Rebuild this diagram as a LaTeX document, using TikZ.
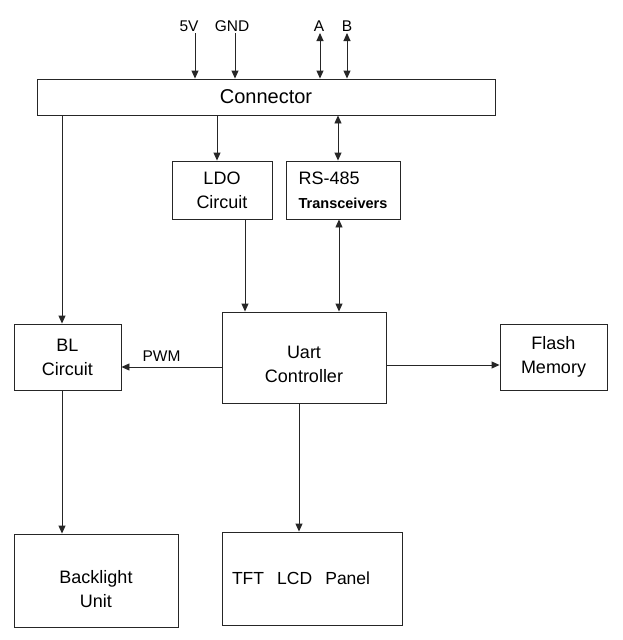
\documentclass[tikz,border=0pt]{standalone}
\usepackage{fontspec}
\setmainfont{Liberation Sans}
\usepackage{tikz}
\usetikzlibrary{arrows.meta,calc}
\definecolor{ink}{HTML}{262626}

\begin{document}
\begin{tikzpicture}[x=1pt,y=-1pt,
  box/.style={draw=ink,line width=0.9pt,inner sep=0pt,align=center,font=\fontsize{18}{24}\selectfont},
  arr/.style={draw=ink,line width=0.9pt,-{Triangle[length=8pt,width=7pt]}},
  biarr/.style={draw=ink,line width=0.9pt,{Triangle[length=8pt,width=7pt]}-{Triangle[length=8pt,width=7pt]}},
  lbl/.style={font=\fontsize{15.5}{18}\selectfont,inner sep=0pt}]
\useasboundingbox (0,0) rectangle (622,640);
% blocks
\node[box,minimum width=458pt,minimum height=36pt,font=\fontsize{20}{24}\selectfont] (conn) at (266,97) {Connector};
\node[box,minimum width=100pt,minimum height=58pt] (ldo) at (222,190) {LDO\\Circuit};
\node[box,minimum width=114pt,minimum height=58pt,align=left] (rs) at (343,190) {RS-485\\{\fontsize{14.5}{17}\bfseries\selectfont Transceivers}};
\node[box,minimum width=107pt,minimum height=66pt] (bl) at (67.5,357) {BL\\Circuit};
\node[box,minimum width=164pt,minimum height=91pt] (uart) at (304,357.5) {Uart\rule{0pt}{27pt}\\Controller};
\node[box,minimum width=107pt,minimum height=66pt] (flash) at (553.5,357) {Flash\\Memory};
\node[box,minimum width=164pt,minimum height=93pt] (bk) at (96,580.5) {Backlight\rule{0pt}{31pt}\\Unit};
\node[box,minimum width=180pt,minimum height=93pt,text width=160pt,align=left,font=\fontsize{17.5}{24}\selectfont] (tft) at (312,578.5) {TFT\hspace{0.75em}LCD\hspace{0.75em}Panel};
% pins on top of the connector
\node[lbl] (p5v) at (189,26.5) {5V};
\node[lbl] (pgnd) at (232,26.5) {GND};
\node[lbl] (pa) at (319,26.5) {A};
\node[lbl] (pb) at (347,26.5) {B};
\coordinate (t5v) at (195,33);
\coordinate (tgnd) at (235,33);
\coordinate (ta) at (320,33);
\coordinate (tb) at (347,33);
\draw[arr] (t5v) -- (t5v |- conn.north);
\draw[arr] (tgnd) -- (tgnd |- conn.north);
\draw[biarr] (ta) -- (ta |- conn.north);
\draw[biarr] (tb) -- (tb |- conn.north);
% links between blocks
\draw[arr] ([xshift=-5pt]ldo.north |- conn.south) -- ([xshift=-5pt]ldo.north);
\draw[biarr] ([xshift=-5pt]rs.north |- conn.south) -- ([xshift=-5pt]rs.north);
\draw[arr] ([xshift=-5.5pt]bl.north |- conn.south) -- ([xshift=-5.5pt]bl.north);
\draw[arr] ([xshift=23pt]ldo.south) -- ([xshift=23pt]ldo.south |- uart.north);
\draw[biarr] ([xshift=-4pt]rs.south) -- ([xshift=-4pt]rs.south |- uart.north);
\draw[arr] (uart.west |- 0,367) -- (bl.east |- 0,367) node[lbl,above=5pt,pos=0.6] (pwm) {PWM};
\draw[arr] (uart.east |- 0,365) -- (flash.west |- 0,365);
\draw[arr] ([xshift=-5.5pt]bl.south) -- ([xshift=-5.5pt]bl.south |- bk.north);
\draw[arr] ([xshift=-5pt]uart.south) -- ([xshift=-5pt]uart.south |- tft.north);
\end{tikzpicture}
\end{document}
